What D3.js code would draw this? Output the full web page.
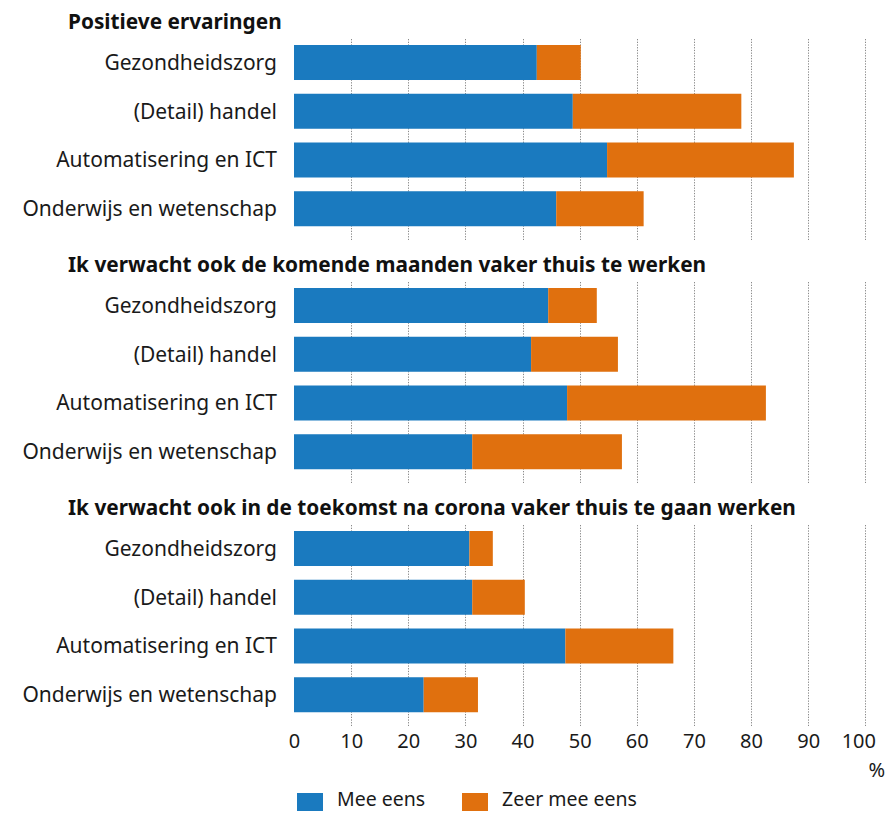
<!DOCTYPE html>
<html><head><meta charset="utf-8">
<script src="https://cdn.jsdelivr.net/npm/d3@7"></script>
<style>body{margin:0;background:#fff}</style>
</head><body>
<script>
const categories = ["Gezondheidszorg", "(Detail) handel", "Automatisering en ICT", "Onderwijs en wetenschap"];
const panelTitles = [
  "Positieve ervaringen",
  "Ik verwacht ook de komende maanden vaker thuis te werken",
  "Ik verwacht ook in de toekomst na corona vaker thuis te gaan werken"
];
const meeEens = [
  [42.5, 48.8, 54.8, 45.9],
  [44.5, 41.5, 47.8, 31.2],
  [30.7, 31.2, 47.5, 22.7]
];
const zeerMeeEens = [
  [7.7, 29.5, 32.7, 15.3],
  [8.5, 15.2, 34.8, 26.2],
  [4.1, 9.2, 18.9, 9.5]
];
const seriesNames = ["Mee eens", "Zeer mee eens"];
const tickValues = [0, 10, 20, 30, 40, 50, 60, 70, 80, 90, 100];
const unitLabel = "%";

const colors = ["#1a7abf", "#e0700e"];
const W = 894, H = 813;
const font = "'Noto Sans', sans-serif";

const svg = d3.select("body").append("svg").attr("width", W).attr("height", H)
  .style("font-family", font);

const x = d3.scaleLinear().domain([0, 100]).range([294, 865.3]);
const panelTops = [45, 288, 531];

panelTitles.forEach((title, p) => {
  const top = panelTops[p];
  const y = d3.scaleBand().domain(categories).range([top, top + 181.25]).paddingInner(0.282).paddingOuter(0);
  const g = svg.append("g");
  // gridlines
  g.selectAll("line.grid").data(tickValues.filter(d => d > 0)).join("line")
    .attr("x1", d => Math.round(x(d)) + 0.5).attr("x2", d => Math.round(x(d)) + 0.5)
    .attr("y1", top - 6).attr("y2", top + 195)
    .attr("stroke", "#8a8a8a").attr("stroke-width", 1).attr("stroke-dasharray", "1.3,1.4");
  // title
  g.append("text").attr("x", 68).attr("y", top - 16).text(title)
    .attr("font-weight", "bold").attr("font-size", 20.8).attr("fill", "#111");
  // labels
  g.selectAll("text.cat").data(categories).join("text")
    .attr("x", 277).attr("y", d => y(d) + y.bandwidth() / 2).attr("dy", "0.35em")
    .attr("text-anchor", "end").attr("font-size", 21).attr("fill", "#1a1a1a").text(d => d);
  // bars
  const rows = categories.map((c, i) => ({ c, a: meeEens[p][i], b: zeerMeeEens[p][i] }));
  g.selectAll("rect.a").data(rows).join("rect")
    .attr("x", x(0)).attr("y", d => y(d.c)).attr("height", y.bandwidth())
    .attr("width", d => x(d.a) - x(0)).attr("fill", colors[0]);
  g.selectAll("rect.b").data(rows).join("rect")
    .attr("x", d => x(d.a)).attr("y", d => y(d.c)).attr("height", y.bandwidth())
    .attr("width", d => x(d.a + d.b) - x(d.a)).attr("fill", colors[1]);
});

// x axis
const axis = d3.axisBottom(x).tickValues(tickValues).tickSize(0).tickPadding(0).tickFormat(d3.format("d"));
const ax = svg.append("g").attr("transform", "translate(0,734)").call(axis);
ax.select(".domain").remove();
ax.selectAll("text").attr("font-size", 20).attr("fill", "#1a1a1a").attr("font-family", font)
  .attr("dy", "0.71em")
  .attr("dx", d => d === 100 ? -7 : 0);
svg.append("text").attr("x", 885).attr("y", 777).attr("text-anchor", "end")
  .attr("font-size", 20).attr("fill", "#1a1a1a").text(unitLabel);

// legend
const leg = svg.append("g");
const legX = [297, 462];
seriesNames.forEach((s, i) => {
  leg.append("rect").attr("x", legX[i]).attr("y", 793).attr("width", 26).attr("height", 18).attr("fill", colors[i]);
  leg.append("text").attr("x", legX[i] + 40).attr("y", 806).attr("font-size", 19.5).attr("fill", "#1a1a1a").text(s);
});
</script>
</body></html>
